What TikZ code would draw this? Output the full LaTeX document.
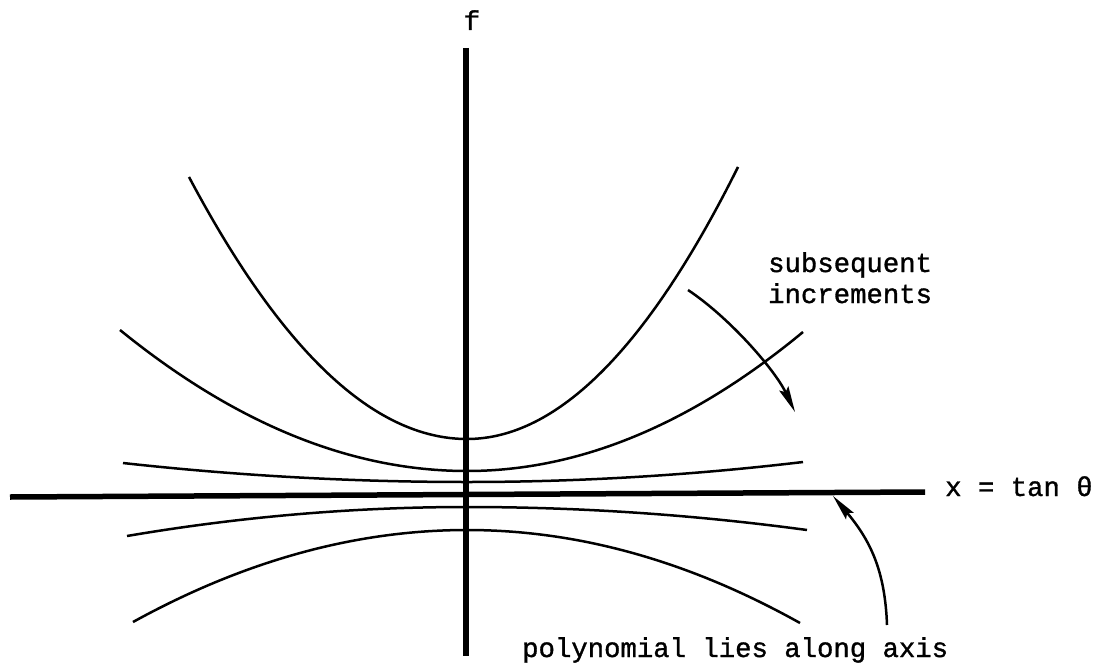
\documentclass[tikz,border=0pt]{standalone}
\usepackage{fontspec}
\newfontfamily\typew{Liberation Mono}[FakeBold=1.2]
\usetikzlibrary{arrows.meta}
\begin{document}
\begin{tikzpicture}[x=1pt,y=-1pt,
  axis/.style={line width=5.5pt},
  curve/.style={line width=2.5pt},
  lbl/.style={font=\fontsize{27.3}{31}\selectfont\typew, inner sep=0pt},
  pointer/.style={line width=2.5pt,-{Stealth[length=26pt,width=10pt,inset=4pt]}}]
\useasboundingbox (0,0) rectangle (1102,666);
% axes
\coordinate (vtop) at (466,48);
\coordinate (vbot) at (466,656);
\coordinate (hl) at (10,497);
\coordinate (hr) at (925,492);
\draw[axis] (vtop) -- (vbot);
\draw[axis] (hl) -- (hr);
% curves
\draw[curve] (189,177) .. controls (281.7,351.7) and (374.3,439) .. (467,439)
  .. controls (557.3,439) and (647.7,348.3) .. (738,167);
\draw[curve] (120,330) .. controls (235.7,424) and (351.3,471) .. (467,471)
  .. controls (579,471) and (691,424.7) .. (803,332);
\draw[curve] (123,463) .. controls (237.7,475.7) and (352.3,482) .. (467,482)
  .. controls (579,482) and (691,475.3) .. (803,462);
\draw[curve] (127,536) .. controls (240.3,516.7) and (353.7,507) .. (467,507)
  .. controls (580.3,507) and (693.7,514.7) .. (807,530);
\draw[curve] (133,622) .. controls (244.3,560.7) and (355.7,530) .. (467,530)
  .. controls (578.3,530) and (689,561) .. (800,623);
% labels
\node[lbl,anchor=base] (f) at (472,30) {f};
\node[lbl,anchor=base west] (sub) at (768,272) {subsequent};
\node[lbl,anchor=base west] (inc) at (768,303) {increments};
\node[lbl,anchor=base west] (xl) at (945,496) {x = tan θ};
\node[lbl,anchor=base west] (poly) at (522,657) {polynomial lies along axis};
% pointers
\coordinate (a1s) at (688,290);
\coordinate (a1e) at (795,412);
\draw[pointer] (a1s) .. controls (730,318) and (775,370) .. (a1e);
\coordinate (a2s) at (887,625);
\coordinate (a2e) at (833,496);
\draw[pointer] (a2s) .. controls (885,570) and (870,540) .. (a2e);
\end{tikzpicture}
\end{document}
